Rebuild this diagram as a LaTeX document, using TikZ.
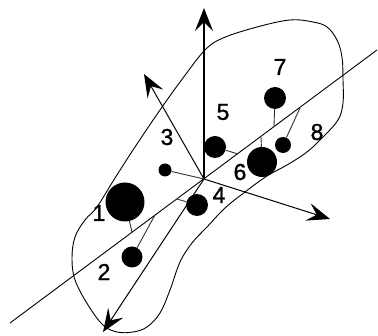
\documentclass[tikz,border=0pt]{standalone}
\usepackage{fontspec}
\setmainfont{Liberation Sans}
\newfontfamily\lblfont[FakeBold=1.3]{Liberation Sans}
\usetikzlibrary{arrows.meta}
\begin{document}
\begin{tikzpicture}[x=1pt,y=-1pt,
  dot/.style={circle,fill=black,draw=none,inner sep=0pt,minimum size=#1},
  lbl/.style={font=\lblfont\fontsize{23}{23}\selectfont,inner sep=0pt},
  thinline/.style={line width=0.9pt},
  arr/.style={line width=1pt,-{Stealth[length=23pt,width=18pt,inset=9pt]}},
  proj/.style={line width=0.9pt,black!80}]
\useasboundingbox (0,0) rectangle (378,336);
% blob outline
\draw[thinline] plot[smooth cycle,tension=0.6] coordinates {
 (97,207) (115,178) (135,147) (160,110) (183,78) (205,50) (223,38) (257,27)
 (290,20) (313,22) (327,27) (337,40) (342,57) (343,80) (343,103) (338,120)
 (323,137) (307,152) (287,165) (267,176) (245,192) (225,208) (207,227)
 (192,243) (180,262) (170,290) (160,313) (147,327) (133,332) (117,332)
 (103,325) (88,305) (75,280) (72,258) (75,237) (85,220)};
% axis and arrows
\coordinate (O) at (204,179);
\coordinate (A1) at (10,323);
\coordinate (A2) at (377,50);
\coordinate (T1) at (204,8);
\coordinate (T2) at (144,74);
\coordinate (T3) at (330,219);
\coordinate (T4) at (103,332);
\draw[thinline] (A1) -- (A2);
\draw[arr,line width=1.4pt] (O) -- (T1);
\draw[arr] (O) -- (T2);
\draw[arr] (O) -- (T3);
\draw[arr] (O) -- (T4);
% dots
\node[dot=39pt] (d1) at (125,202) {};
\node[dot=21pt] (d2) at (132,257) {};
\node[dot=13pt] (d3) at (165,170) {};
\node[dot=22pt] (d4) at (197,205) {};
\node[dot=22pt] (d5) at (215,147) {};
\node[dot=30pt] (d6) at (262,162) {};
\node[dot=22pt] (d7) at (275,98) {};
\node[dot=16pt] (d8) at (283,145) {};
% projection feet
\coordinate (p1) at (132,232);
\coordinate (p2) at (155,215);
\coordinate (p4) at (177,199);
\coordinate (p5) at (238,154);
\coordinate (p6) at (261,137);
\coordinate (p7) at (274,126);
\coordinate (p8) at (300,108);
\draw[proj] (d1) -- (p1);
\draw[proj] (d2) -- (p2);
\draw[proj] (d3) -- (O);
\draw[proj] (d4) -- (p4);
\draw[proj] (d5) -- (p5);
\draw[proj] (d6) -- (p6);
\draw[proj] (d7) -- (p7);
\draw[proj] (d8) -- (p8);
% labels
\node[lbl] (l1) at (99,213) {1};
\node[lbl] (l2) at (104,272) {2};
\node[lbl] (l3) at (167,137) {3};
\node[lbl] (l4) at (219,195) {4};
\node[lbl] (l5) at (223,112) {5};
\node[lbl] (l6) at (240,172) {6};
\node[lbl] (l7) at (280,67) {7};
\node[lbl] (l8) at (317,132) {8};
\end{tikzpicture}
\end{document}
